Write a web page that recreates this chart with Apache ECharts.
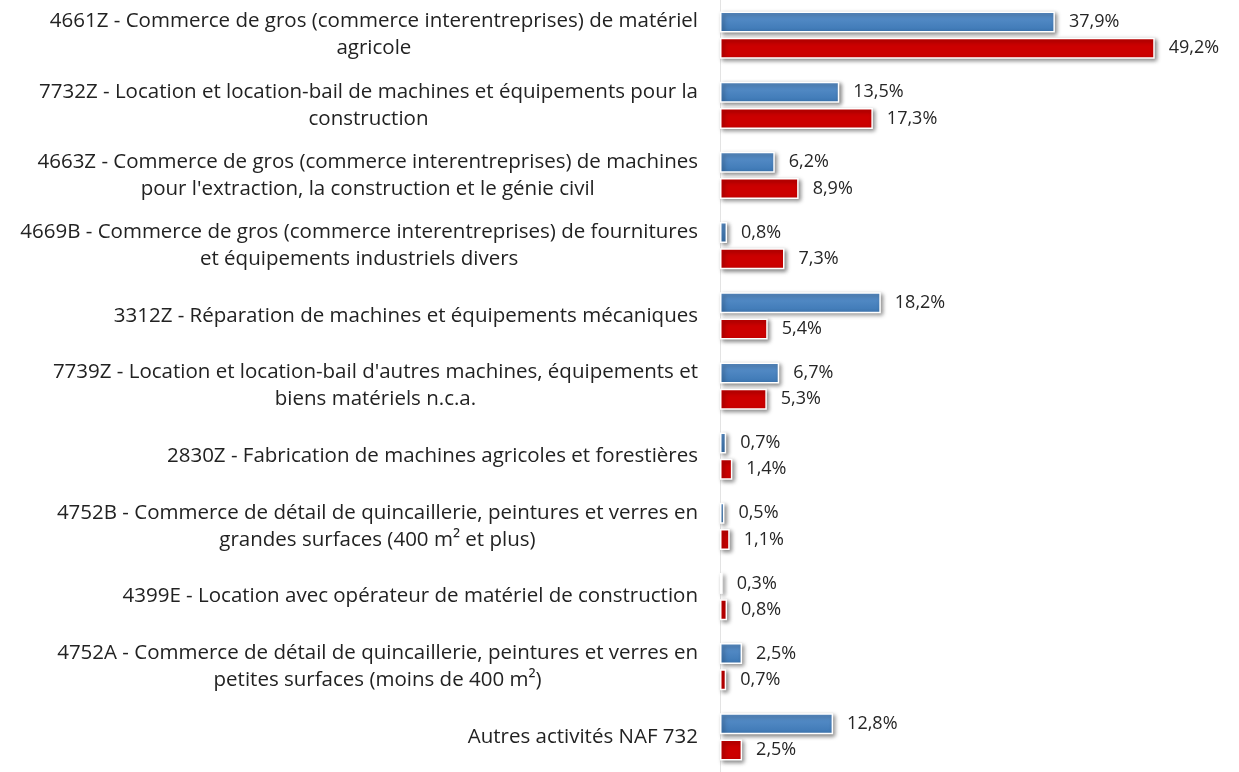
<!DOCTYPE html>
<html>
<head>
<meta charset="utf-8">
<script src="https://cdn.jsdelivr.net/npm/echarts@6/dist/echarts.min.js"></script>
<style>
  html, body { margin: 0; padding: 0; background: #fff; }
  #chart { width: 1239px; height: 772px; }
</style>
</head>
<body>
<div id="chart"></div>
<script>
// activités (libellés avec retour à la ligne comme dans l'original)
const categories = [
    "4661Z - Commerce de gros (commerce interentreprises) de matériel\nagricole",
    "7732Z - Location et location-bail de machines et équipements pour la\nconstruction",
    "4663Z - Commerce de gros (commerce interentreprises) de machines\npour l'extraction, la construction et le génie civil",
    "4669B - Commerce de gros (commerce interentreprises) de fournitures\net équipements industriels divers",
    "3312Z - Réparation de machines et équipements mécaniques",
    "7739Z - Location et location-bail d'autres machines, équipements et\nbiens matériels n.c.a.",
    "2830Z - Fabrication de machines agricoles et forestières",
    "4752B - Commerce de détail de quincaillerie, peintures et verres en\ngrandes surfaces (400 m² et plus)",
    "4399E - Location avec opérateur de matériel de construction",
    "4752A - Commerce de détail de quincaillerie, peintures et verres en\npetites surfaces (moins de 400 m²)",
    "Autres activités NAF 732"
];
const blueValues = [37.9, 13.5, 6.2, 0.8, 18.2, 6.7, 0.7, 0.5, 0.3, 2.5, 12.8];
const redValues = [49.2, 17.3, 8.9, 7.3, 5.4, 5.3, 1.4, 1.1, 0.8, 0.7, 2.5];

const chart = echarts.init(document.getElementById("chart"));

function pct(p) {
    return String(p.value).replace(".", ",") + "%";
}

const barLabel = {
    show: true,
    position: "right",
    distance: 14,
    formatter: pct,
    color: "#262626",
    fontSize: 18,
    fontFamily: "Open Sans"
};

const barShadow = {
    borderColor: "#fff",
    borderWidth: 1.5,
    shadowColor: "rgba(0,0,0,0.45)",
    shadowBlur: 4,
    shadowOffsetX: 2,
    shadowOffsetY: 2
};

const option = {
    animation: false,
    grid: {
        left: 720,
        width: 486,
        top: -4,
        height: 784
    },
    xAxis: {
        type: "value",
        min: 0,
        max: 55,
        show: false
    },
    yAxis: {
        type: "category",
        inverse: true,
        data: categories,
        axisLine: { show: true, lineStyle: { color: "#e3e3e3", width: 1 } },
        axisTick: { show: false },
        axisLabel: {
            margin: 22,
            // chaque ligne centrée dans le bloc
            formatter: function(v) {
                return v.split("\n").map(function(l) { return "{c|" + l + "}"; }).join("\n");
            },
            rich: {
                c: {
                    align: "center",
                    fontSize: 20.5,
                    lineHeight: 27,
                    color: "#222",
                    fontFamily: "Open Sans"
                }
            }
        }
    },
    series: [
        {
            name: "bleu",
            type: "bar",
            barWidth: 21,
            barGap: "25%",
            data: blueValues,
            label: barLabel,
            itemStyle: Object.assign({
                color: new echarts.graphic.LinearGradient(0, 0, 0, 1, [
                    { offset: 0, color: "#5d93cd" },
                    { offset: 1, color: "#3c77b4" }
                ])
            }, barShadow)
        },
        {
            name: "rouge",
            type: "bar",
            barWidth: 21,
            data: redValues,
            label: barLabel,
            itemStyle: Object.assign({ color: "#cc0000" }, barShadow)
        }
    ]
};

chart.setOption(option);
</script>
</body>
</html>
